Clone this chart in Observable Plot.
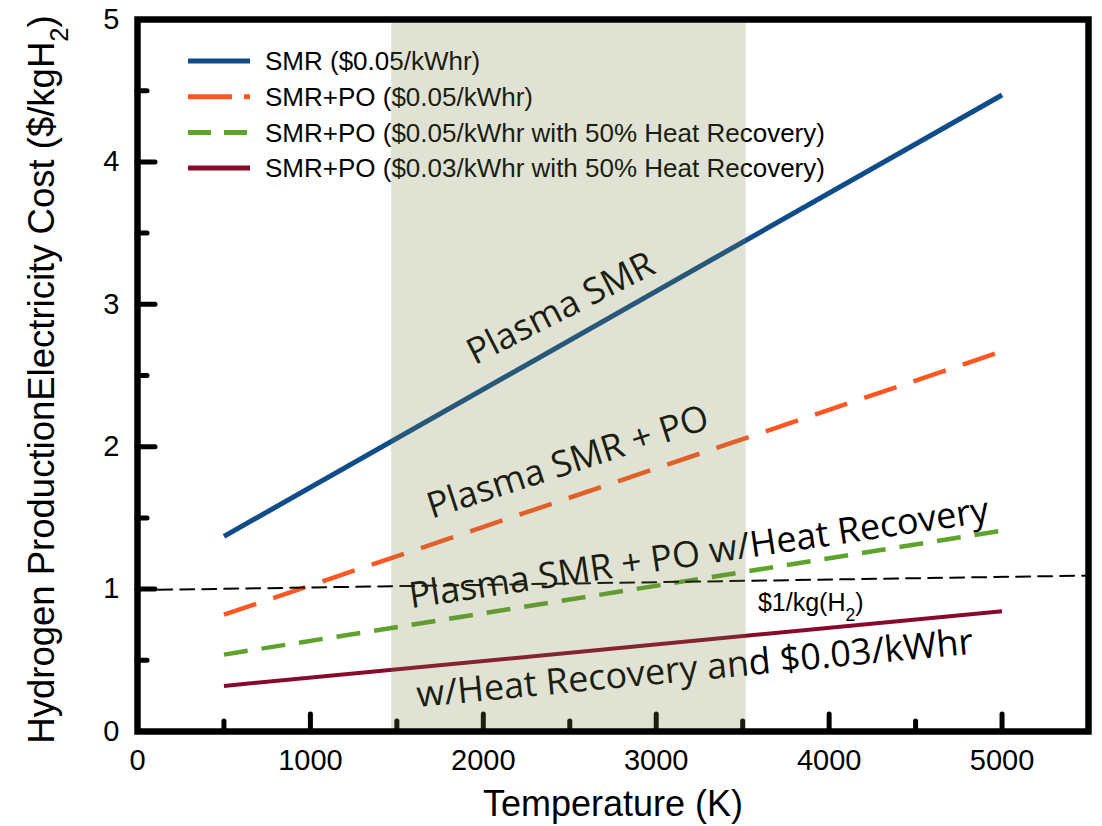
<!DOCTYPE html>
<html><head><meta charset="utf-8">
<script src="https://cdn.jsdelivr.net/npm/d3@7"></script>
<script src="https://cdn.jsdelivr.net/npm/@observablehq/plot@0.6"></script>
<style>body{margin:0;background:#fff}</style>
</head><body><div id="chart"></div>
<script>
// ---- data ----
const temps = [500, 5000];
const smr = [1.37, 4.47];
const smrPO = [0.82, 2.67];
const smrPOHeat = [0.54, 1.41];
const smrPOHeat03 = [0.32, 0.845];
const targetX = [120, 5500];
const targetY = [0.995, 1.095];
const targetLabel = "$1/kg(H₂)";
const targetLabelX = 3588;
const targetLabelY = 0.9;
const bandRange = [1470, 3520];
const xTicks = [0, 1000, 2000, 3000, 4000, 5000];
const xMajorInner = [1000, 2000, 3000, 4000, 5000];
const xMinor = [500, 1500, 2500, 3500, 4500];
const yTicks = [0, 1, 2, 3, 4, 5];
const yMajorInner = [1, 2, 3, 4];
const yMinor = [0.5, 1.5, 2.5, 3.5, 4.5];
const seriesNames = [
  "SMR ($0.05/kWhr)",
  "SMR+PO ($0.05/kWhr)",
  "SMR+PO ($0.05/kWhr with 50% Heat Recovery)",
  "SMR+PO ($0.03/kWhr with 50% Heat Recovery)"
];
const seriesValues = [smr, smrPO, smrPOHeat, smrPOHeat03];
const seriesColors = ["#0f4c8a", "#ff5722", "#5ea32b", "#870a2c"];
const seriesDash = [null, "34,18", "24,14", null];
const seriesWidth = [5, 4.5, 4.5, 4];
const legendDash = [null, "44,12", "23,13", null];
const annoText = ["Plasma SMR", "Plasma SMR + PO", "Plasma SMR + PO w/Heat Recovery", "w/Heat Recovery and $0.03/kWhr"];
const annoX = [2448, 2489, 3247, 3223];
const annoY = [2.97, 1.89, 1.25, 0.44];
const annoAngle = [-27, -18, -8.5, -5.5];
const xLabel = "Temperature (K)";
const yLabel = "Hydrogen ProductionElectricity Cost ($/kgH₂)";

// ---- layout ----
const W = 1102, H = 826;
const mL = 137, mR = 14, mT = 19, mB = 95;
const plotW = W - mL - mR, plotH = H - mT - mB;

const seriesRows = seriesValues.map(vals => temps.map((t, i) => ({t, v: vals[i]})));
const targetRows = targetX.map((x, i) => ({x, y: targetY[i]}));
const annoRows = annoText.map((t, i) => ({t, x: annoX[i], y: annoY[i], a: annoAngle[i]}));

function legendMark() {
  const g = d3.create("svg:g").attr("text-anchor", "start");
  seriesNames.forEach((name, i) => {
    const y = 61 + i * 35.7;
    const ln = g.append("line").attr("x1", 188).attr("x2", 250).attr("y1", y).attr("y2", y)
      .attr("stroke", seriesColors[i]).attr("stroke-width", 5);
    if (legendDash[i]) ln.attr("stroke-dasharray", legendDash[i]);
    g.append("text").attr("x", 265).attr("y", y).attr("dy", "0.35em")
      .attr("text-anchor", "start")
      .attr("font-size", 26).attr("font-family", "Liberation Sans, Arial, sans-serif")
      .attr("fill", "black").text(name);
  });
  return g.node();
}

const marks = [
  Plot.ruleX(xMajorInner, {x: d => d, stroke: "black", strokeWidth: 5, strokeLinecap: "round", insetTop: plotH - 17}),
  Plot.ruleX(xMinor, {x: d => d, stroke: "black", strokeWidth: 5, strokeLinecap: "round", insetTop: plotH - 10}),
  Plot.ruleY(yMajorInner, {y: d => d, stroke: "black", strokeWidth: 5, strokeLinecap: "round", insetRight: plotW - 18}),
  Plot.ruleY(yMinor, {y: d => d, stroke: "black", strokeWidth: 5, strokeLinecap: "round", insetRight: plotW - 10}),
  ...seriesRows.map((rows, i) => Plot.line(rows, {
    x: "t", y: "v", stroke: seriesColors[i], strokeWidth: seriesWidth[i],
    strokeDasharray: seriesDash[i] || undefined, strokeLinecap: "butt"
  })),
  Plot.line(targetRows, {x: "x", y: "y", stroke: "black", strokeWidth: 2, strokeDasharray: "14,8"}),
  Plot.text([targetLabel], {x: () => targetLabelX, y: () => targetLabelY, text: d => d, textAnchor: "start",
    fontSize: 25, fontFamily: "Liberation Sans, Arial, sans-serif", fill: "black"}),
  Plot.text(annoRows, {x: "x", y: "y", text: "t", rotate: "a", fontSize: 36,
    fontFamily: "Open Sans, sans-serif", fill: "black"}),
  legendMark,
  Plot.rect([bandRange], {x1: d => d[0], x2: d => d[1], y1: () => 0, y2: () => 5,
    fill: "rgb(121,130,69)", fillOpacity: 0.23, insetTop: 4}),
  Plot.frame({stroke: "black", strokeWidth: 6.5}),
  Plot.axisX({ticks: xTicks, tickSize: 0, tickPadding: 18, fontSize: 29, label: null, tickFormat: d => String(d)}),
  Plot.axisY({ticks: yTicks, tickSize: 0, tickPadding: 18, fontSize: 29, label: null, tickFormat: d => String(d)}),
  Plot.text([xLabel], {frameAnchor: "bottom", dy: 59, lineAnchor: "top", text: d => d, fontSize: 36,
    fontFamily: "Liberation Sans, Arial, sans-serif", fill: "black"}),
  Plot.text([yLabel], {frameAnchor: "left", dx: -95, dy: 4, rotate: -90, textAnchor: "middle", lineAnchor: "middle",
    text: d => d, fontSize: 36.5, fontFamily: "Liberation Sans, Arial, sans-serif", fill: "black"})
];

const chart = Plot.plot({
  width: W, height: H,
  marginLeft: mL, marginRight: mR, marginTop: mT, marginBottom: mB,
  x: {domain: [0, 5500], axis: null},
  y: {domain: [0, 5], axis: null},
  style: {fontFamily: "Liberation Sans, Arial, sans-serif", fontSize: "29px", color: "black", background: "white"},
  marks
});

function subscriptify(root) {
  root.querySelectorAll("text, tspan").forEach(el => {
    if (el.children.length) return;
    const s = el.textContent;
    if (!s.includes("₂")) return;
    el.textContent = "";
    const parts = s.split("₂");
    parts.forEach((p, i) => {
      if (p) el.appendChild(document.createTextNode(p));
      if (i < parts.length - 1) {
        const ts = document.createElementNS("http://www.w3.org/2000/svg", "tspan");
        ts.setAttribute("baseline-shift", "sub");
        ts.setAttribute("font-size", "70%");
        ts.textContent = "2";
        el.appendChild(ts);
      }
    });
  });
}
subscriptify(chart);
document.getElementById("chart").appendChild(chart);
</script>
</body></html>
